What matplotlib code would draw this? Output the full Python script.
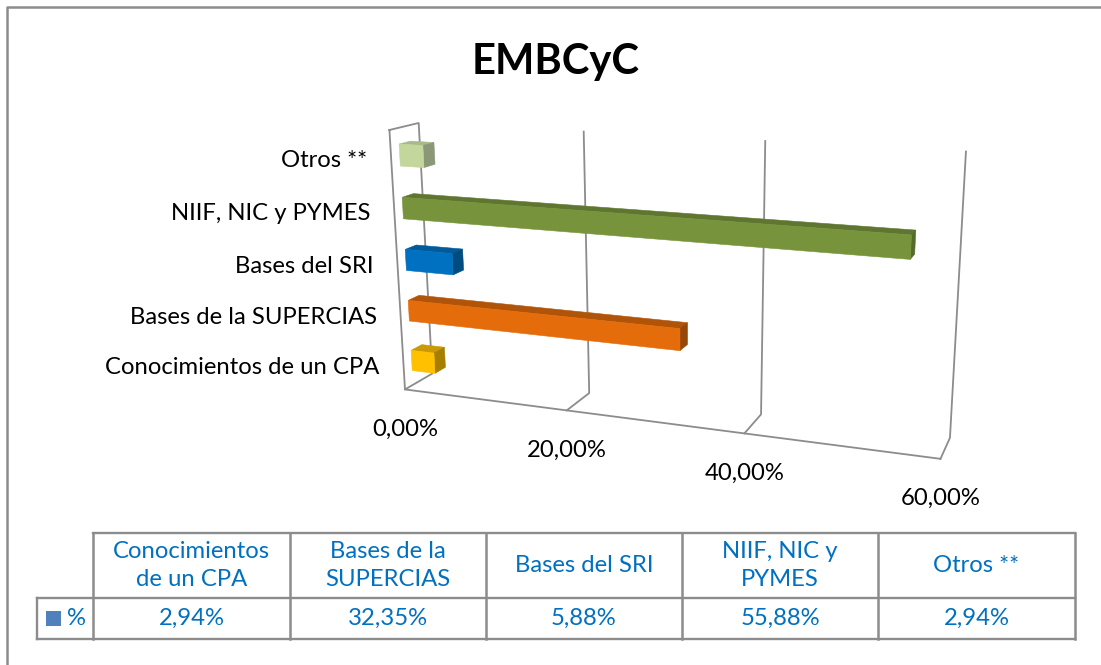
import numpy as np
from matplotlib import pyplot as plt
from matplotlib.patches import Polygon, Rectangle

plt.rcParams['font.family'] = ['Lato', 'DejaVu Sans']

# Data
categorias = ["Conocimientos de un CPA", "Bases de la SUPERCIAS", "Bases del SRI",
              "NIIF, NIC y PYMES", "Otros **"]
encabezados = ["Conocimientos\nde un CPA", "Bases de la\nSUPERCIAS", "Bases del SRI",
               "NIIF, NIC y\nPYMES", "Otros **"]
valores = [2.94, 32.35, 5.88, 55.88, 2.94]
etiquetas = ["2,94%", "32,35%", "5,88%", "55,88%", "2,94%"]
ticks = [0, 20, 40, 60]
tick_labels = ["0,00%", "20,00%", "40,00%", "60,00%"]

# front, top and side shades of each bar
colores = [("#FFC000", "#C99A05", "#A67F00"),
           ("#E46C0A", "#B0540A", "#964707"),
           ("#0070C0", "#005A9C", "#004C80"),
           ("#77933C", "#5E762F", "#556B2A"),
           ("#C3D69B", "#A9B98A", "#8A9878")]

GRIS = "#8C8C8C"
AZUL = "#0070C0"

# Camera of the 3D box: (value, depth, height) -> canvas pixel, fitted on the box corners
mundo = np.array([[0, 0, 0], [20, 0, 0], [40, 0, 0], [60, 0, 0],
                  [0, 1, 0], [20, 1, 0], [40, 1, 0], [60, 1, 0],
                  [0, 1, 1], [20, 1, 1], [40, 1, 1], [60, 1, 1], [0, 0, 1]], dtype=float)
canvas = np.array([[405, 390], [567, 410], [745, 433], [940, 459],
                   [432, 373], [589, 393], [761, 415], [950, 438],
                   [419, 123], [584, 132], [765, 141], [966, 151], [389, 130]], dtype=float)

filas = []
for (v, d, h), (px, py) in zip(mundo, canvas):
    filas.append([v, d, h, 1, 0, 0, 0, 0, -px * v, -px * d, -px * h, -px])
    filas.append([0, 0, 0, 0, v, d, h, 1, -py * v, -py * d, -py * h, -py])
P = np.linalg.svd(np.array(filas))[2][-1].reshape(3, 4)


def proyectar(v, d, h):
    q = P @ np.array([v, d, h, 1.0])
    return q[0] / q[2], q[1] / q[2]


fig = plt.figure(figsize=(11.01, 6.65), dpi=100)
ax = fig.add_axes([0, 0, 1, 1])
ax.set_xlim(0, 1101)
ax.set_ylim(665, 0)
ax.axis("off")


def linea(puntos, lw=1.5, color=GRIS, z=1):
    xs, ys = zip(*puntos)
    ax.plot(xs, ys, color=color, lw=lw, solid_capstyle="projecting", zorder=z)


# Outer frame: top and left only
linea([(1101, 6.5), (7, 6.5), (7, 665)], lw=1.8)

# Box walls and floor
linea([proyectar(0, 0, 1), proyectar(0, 1, 1), proyectar(0, 1, 0), proyectar(0, 0, 0), proyectar(0, 0, 1)], lw=1.3)
linea([proyectar(0, 0, 0), proyectar(60, 0, 0)], lw=1.3)
for t in ticks[1:]:
    linea([proyectar(t, 0, 0), proyectar(t, 1, 0), proyectar(t, 1, 1)], lw=1.3)

# Bars, bottom one last so the upper ones stay behind it
ALTO = 0.2
D0, D1 = 0.29, 0.68
for i in range(len(valores) - 1, -1, -1):
    v = valores[i]
    h0 = (i + 0.29) * ALTO
    h1 = (i + 0.70) * ALTO
    frente, arriba, lado = colores[i]
    ax.add_patch(Polygon([proyectar(0, D0, h1), proyectar(0, D1, h1), proyectar(v, D1, h1), proyectar(v, D0, h1)],
                         closed=True, fc=arriba, ec=arriba, lw=0.4, zorder=3))
    ax.add_patch(Polygon([proyectar(v, D0, h0), proyectar(v, D1, h0), proyectar(v, D1, h1), proyectar(v, D0, h1)],
                         closed=True, fc=lado, ec=lado, lw=0.4, zorder=3))
    ax.add_patch(Polygon([proyectar(0, D0, h0), proyectar(v, D0, h0), proyectar(v, D0, h1), proyectar(0, D0, h1)],
                         closed=True, fc=frente, ec=frente, lw=0.4, zorder=4))

# Category labels follow the left edge of the box
FS = 17.2
for i, nombre in enumerate(categorias):
    x, y = proyectar(0, 0, (i + 0.45) * ALTO)
    ax.text(x - 24, y + 7, nombre, ha="right", va="baseline", fontsize=FS, color="black")

# Value axis labels
for t, lab in zip(ticks, tick_labels):
    x, y = proyectar(t, 0, 0)
    ax.text(x + 0.5, y + 40, lab, ha="center", va="center", fontsize=FS, color="black")

ax.text(556, 62, "EMBCyC", ha="center", va="center", fontsize=30, fontweight="bold", color="black")

# Data table
x_col = [93, 290, 486, 682, 878, 1075]
y_fil = [533, 598, 639]
X_LEY = 37

linea([(x_col[0], y_fil[0]), (x_col[-1], y_fil[0])], lw=1.7)
linea([(X_LEY, y_fil[1]), (x_col[-1], y_fil[1])], lw=1.7)
linea([(X_LEY, y_fil[2]), (x_col[-1], y_fil[2])], lw=1.7)
linea([(X_LEY, y_fil[1]), (X_LEY, y_fil[2])], lw=1.7)
for x in x_col:
    linea([(x, y_fil[0]), (x, y_fil[2])], lw=1.8)

for i in range(len(valores)):
    xc = (x_col[i] + x_col[i + 1]) / 2
    ax.text(xc, (y_fil[0] + y_fil[1]) / 2, encabezados[i], ha="center", va="center",
            fontsize=FS, color=AZUL, linespacing=1.4)
    ax.text(xc, (y_fil[1] + y_fil[2]) / 2, etiquetas[i], ha="center", va="center",
            fontsize=FS, color=AZUL)

ax.add_patch(Rectangle((46, 611), 15, 15, fc="#4F81BD", ec="none", zorder=3))
ax.text(77, (y_fil[1] + y_fil[2]) / 2, "%", ha="center", va="center", fontsize=FS, color=AZUL)

fig.savefig("out.png", dpi=100)
